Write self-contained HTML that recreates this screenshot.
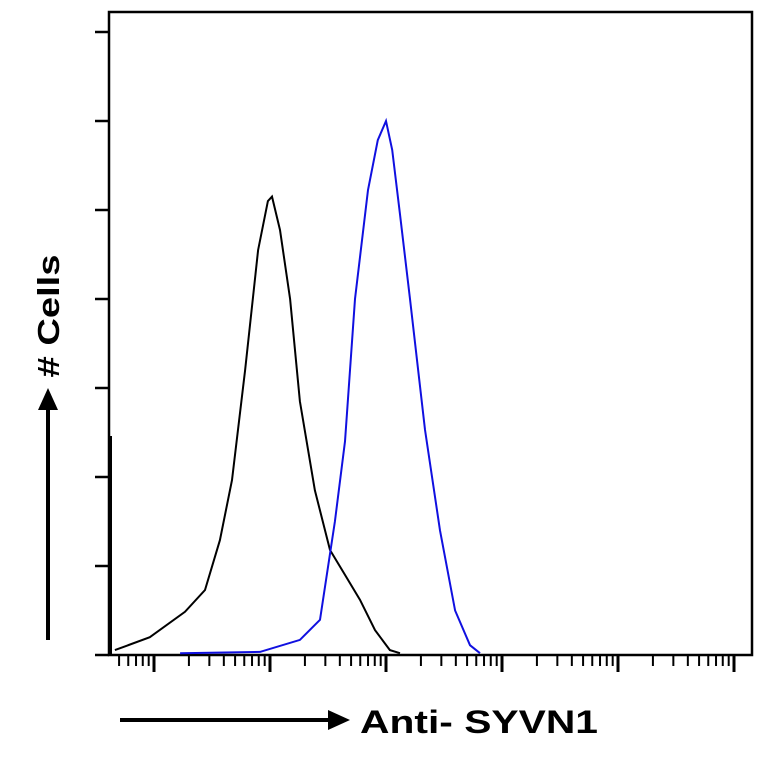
<!DOCTYPE html>
<html><head><meta charset="utf-8"><style>
body{margin:0;background:#fff;}
svg{display:block;font-family:"Liberation Sans",sans-serif;}
</style></head><body>
<svg id="chart" width="764" height="764">
<rect x="109" y="12" width="643" height="643" fill="none" stroke="#000" stroke-width="2.5"/>
<g id="yticks"></g>
<g id="xticks"></g>
<rect x="108" y="436" width="4" height="219" fill="#000"/>
<path id="black" fill="none" stroke="#000" stroke-width="2"/>
<path id="blue" fill="none" stroke="#1010e0" stroke-width="2"/>
<line x1="48" y1="640" x2="48" y2="408" stroke="#000" stroke-width="4"/>
<polygon points="38,410 58,410 48,388" fill="#000"/>
<text x="0" y="0" transform="translate(59,316) rotate(-90)" text-anchor="middle" font-weight="bold" font-size="31" textLength="123" lengthAdjust="spacingAndGlyphs"># Cells</text>
<line x1="120" y1="720" x2="330" y2="720" stroke="#000" stroke-width="4"/>
<polygon points="328,710 328,730 350,720" fill="#000"/>
<text x="360" y="733" font-weight="bold" font-size="32" textLength="238" lengthAdjust="spacingAndGlyphs">Anti- SYVN1</text>
</svg>
<script>
const yTickCounts=[0,20,40,60,80,100,120,140];
const blackX=[0.46,0.92,1.85,2.75,3.7,4.7,6.1,7.9,9.6,10.4,12.2,14.9,18.1,24.4,32.9,44.3,59.7,80.4,108,132];
const blackY=[1.1,4,9.7,14.6,25.8,39.3,64,91,102,103,95.5,80,57,37,23.6,18,12.4,5.6,1.1,0.4];
const blueX=[1.68,8.2,18.1,27,36.3,44.3,54,70,85,100,113,132,161,217,292,394,530,646];
const blueY=[0.4,0.7,3.4,7.9,30,48,80,104.5,115.7,120,113.5,99,80,50.6,28,10,2.2,0.4];
const decades=[0,1,2,3,4,5];
const NS="http://www.w3.org/2000/svg";
function xs(v){return 154+116*Math.log10(v);}
function ys(c){return 655-c*89/20;}
const yt=document.getElementById('yticks');
yTickCounts.forEach(c=>{const l=document.createElementNS(NS,'line');
l.setAttribute('x1',95);l.setAttribute('x2',109);l.setAttribute('y1',ys(c));l.setAttribute('y2',ys(c));
l.setAttribute('stroke','#000');l.setAttribute('stroke-width','2.5');


yt.appendChild(l);});
const xt=document.getElementById('xticks');
[-1].concat(decades).forEach(d=>{for(let m=1;m<=9;m++){const v=m*Math.pow(10,d);const x=xs(v);if(x<110||x>752)continue;
const l=document.createElementNS(NS,'line');l.setAttribute('x1',x);l.setAttribute('x2',x);
l.setAttribute('y1',655);l.setAttribute('y2',m===1?672:666);l.setAttribute('stroke','#000');l.setAttribute('stroke-width',m===1?3:2);


xt.appendChild(l);}});
function path(X,Y){return X.map((v,i)=>(i?'L':'M')+xs(v).toFixed(1)+','+ys(Y[i]).toFixed(1)).join('');}
document.getElementById('black').setAttribute('d',path(blackX,blackY));
document.getElementById('blue').setAttribute('d',path(blueX,blueY));
</script>
</body></html>
